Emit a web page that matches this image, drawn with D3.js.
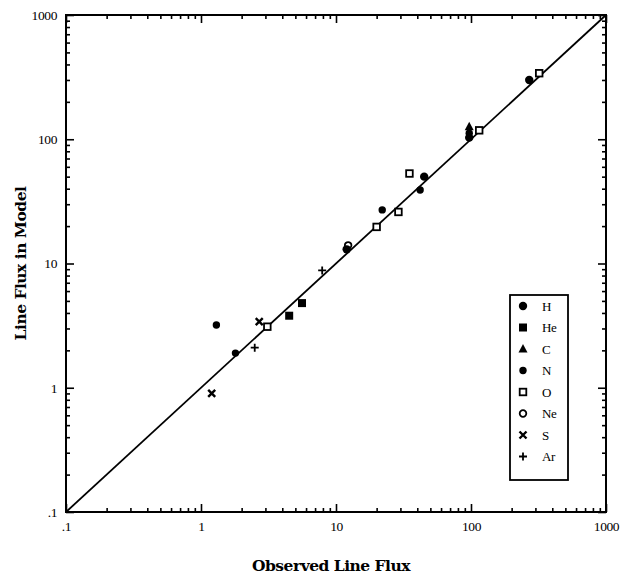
<!DOCTYPE html>
<html>
<head>
<meta charset="utf-8">
<script src="https://cdn.jsdelivr.net/npm/d3@7"></script>
<style>
  body { margin: 0; background: #fff; }
  text { font-family: "Liberation Serif", "DejaVu Serif", serif; fill: #000; }
  .title { font-family: "DejaVu Serif", "Liberation Serif", serif; }
</style>
</head>
<body>
<div id="canvas"></div>
<script>
const tickValues = [0.1, 1, 10, 100, 1000]
const tickLabels = ['.1', '1', '10', '100', '1000']

const species = ['H', 'He', 'C', 'N', 'O', 'Ne', 'S', 'Ar']

// observed vs model line flux, one array per ion
const H  = [[12, 13], [45, 50], [97, 103], [270, 300]]
const He = [[4.5, 3.8], [5.6, 4.8]]
const C  = [[97, 126]]
const N  = [[1.3, 3.2], [1.8, 1.9], [22, 27], [42, 39], [97, 112]]
const O  = [[3.1, 3.1], [20, 19.7], [29, 26], [35, 53], [115, 118], [320, 340]]
const Ne = [[12.3, 14]]
const S  = [[1.2, 0.9], [2.7, 3.4]]
const Ar = [[2.5, 2.1], [7.9, 8.8]]

const series = { H, He, C, N, O, Ne, S, Ar }

const width = 620
const height = 575
const margin = { top: 15, right: 14, bottom: 63, left: 66 }
const innerW = width - margin.left - margin.right
const innerH = height - margin.top - margin.bottom

const svg = d3.select('#canvas')
    .append('svg')
        .attr('width', width)
        .attr('height', height)

const g = svg.append('g')
    .attr('transform', `translate(${margin.left}, ${margin.top})`)

const x = d3.scaleLog().domain([0.1, 1000]).range([0, innerW])
const y = d3.scaleLog().domain([0.1, 1000]).range([innerH, 0])

// every decade's 1..9 multiples
const allTicks = []
for (let e = -1; e < 3; e++) {
    for (let m = 1; m < 10; m++) allTicks.push(m * Math.pow(10, e))
}
allTicks.push(1000)
const majorIndex = v => tickValues.findIndex(t => Math.abs(t - v) / t < 1e-6)
const fmt = v => majorIndex(v) >= 0 ? tickLabels[majorIndex(v)] : ''

// sign: which way is "inward" for this axis
function styleAxis(sel, attr, sign) {
    sel.select('.domain').remove()
    sel.selectAll('.tick line')
        .attr('stroke', '#000')
        .attr('stroke-width', 1.6)
        .attr(attr, d => sign * (majorIndex(d) >= 0 ? 8 : 4))
    sel.selectAll('.tick text')
        .attr('font-size', 13.5)
        .attr('letter-spacing', -0.4)
}

const bottomAxis = g.append('g')
    .attr('transform', `translate(0, ${innerH})`)
    .call(d3.axisBottom(x).tickValues(allTicks).tickFormat(fmt).tickSizeInner(-8).tickSizeOuter(0).tickPadding(9))
styleAxis(bottomAxis, 'y2', -1)

const topAxis = g.append('g')
    .call(d3.axisTop(x).tickValues(allTicks).tickFormat('').tickSizeInner(-8).tickSizeOuter(0))
styleAxis(topAxis, 'y2', 1)

const leftAxis = g.append('g')
    .call(d3.axisLeft(y).tickValues(allTicks).tickFormat(fmt).tickSizeInner(-8).tickSizeOuter(0).tickPadding(9))
styleAxis(leftAxis, 'x2', 1)

const rightAxis = g.append('g')
    .attr('transform', `translate(${innerW}, 0)`)
    .call(d3.axisRight(y).tickValues(allTicks).tickFormat('').tickSizeInner(-8).tickSizeOuter(0))
styleAxis(rightAxis, 'x2', -1)

// frame
g.append('rect')
    .attr('width', innerW)
    .attr('height', innerH)
    .attr('fill', 'none')
    .attr('stroke', '#000')
    .attr('stroke-width', 2)

// one-to-one line
g.append('line')
    .attr('x1', x(0.1)).attr('y1', y(0.1))
    .attr('x2', x(1000)).attr('y2', y(1000))
    .attr('stroke', '#000')
    .attr('stroke-width', 1.8)

function drawMarker(sel, name) {
    switch (name) {
        case 'H':
            sel.append('circle').attr('r', 4.2).attr('fill', '#000'); break
        case 'N':
            sel.append('circle').attr('r', 3.7).attr('fill', '#000'); break
        case 'He':
            sel.append('rect').attr('x', -4).attr('y', -4).attr('width', 8).attr('height', 8).attr('fill', '#000'); break
        case 'C':
            sel.append('path').attr('d', 'M0,-5L4.5,3.5L-4.5,3.5Z').attr('fill', '#000'); break
        case 'O':
            sel.append('rect').attr('x', -3.3).attr('y', -3.3).attr('width', 6.6).attr('height', 6.6)
                .attr('fill', '#fff').attr('stroke', '#000').attr('stroke-width', 1.8); break
        case 'Ne':
            sel.append('circle').attr('r', 3.3).attr('fill', 'none').attr('stroke', '#000').attr('stroke-width', 1.8); break
        case 'S':
            sel.append('path').attr('d', 'M-3.5,-3.5L3.5,3.5M-3.5,3.5L3.5,-3.5')
                .attr('stroke', '#000').attr('stroke-width', 2.4); break
        case 'Ar':
            sel.append('path').attr('d', 'M-4,0L4,0M0,-4L0,4')
                .attr('stroke', '#000').attr('stroke-width', 1.8); break
    }
}

species.forEach(name => {
    series[name].forEach(d => {
        const m = g.append('g').attr('transform', `translate(${x(d[0])}, ${y(d[1])})`)
        drawMarker(m, name)
    })
})

// legend
const legend = svg.append('g').attr('transform', 'translate(510, 295)')
legend.append('rect')
    .attr('width', 58)
    .attr('height', 185)
    .attr('fill', '#fff')
    .attr('stroke', '#000')
    .attr('stroke-width', 1.8)
species.forEach((name, i) => {
    const row = legend.append('g').attr('transform', `translate(13, ${11 + i * 21.5})`)
    drawMarker(row, name)
    row.append('text')
        .attr('x', 19)
        .attr('y', 4.5)
        .attr('font-size', 13)
        .attr('letter-spacing', -0.4)
        .text(name)
})

// axis titles
svg.append('text')
    .attr('class', 'title')
    .attr('x', 331)
    .attr('y', 571)
    .attr('text-anchor', 'middle')
    .attr('font-size', 15.5)
    .attr('font-weight', 'bold')
    .attr('letter-spacing', -0.5)
    .text('Observed Line Flux')

svg.append('text')
    .attr('class', 'title')
    .attr('transform', `translate(26, ${margin.top + innerH / 2}) rotate(-90)`)
    .attr('text-anchor', 'middle')
    .attr('font-size', 15.5)
    .attr('font-weight', 'bold')
    .attr('letter-spacing', -0.5)
    .text('Line Flux in Model')
</script>
</body>
</html>
